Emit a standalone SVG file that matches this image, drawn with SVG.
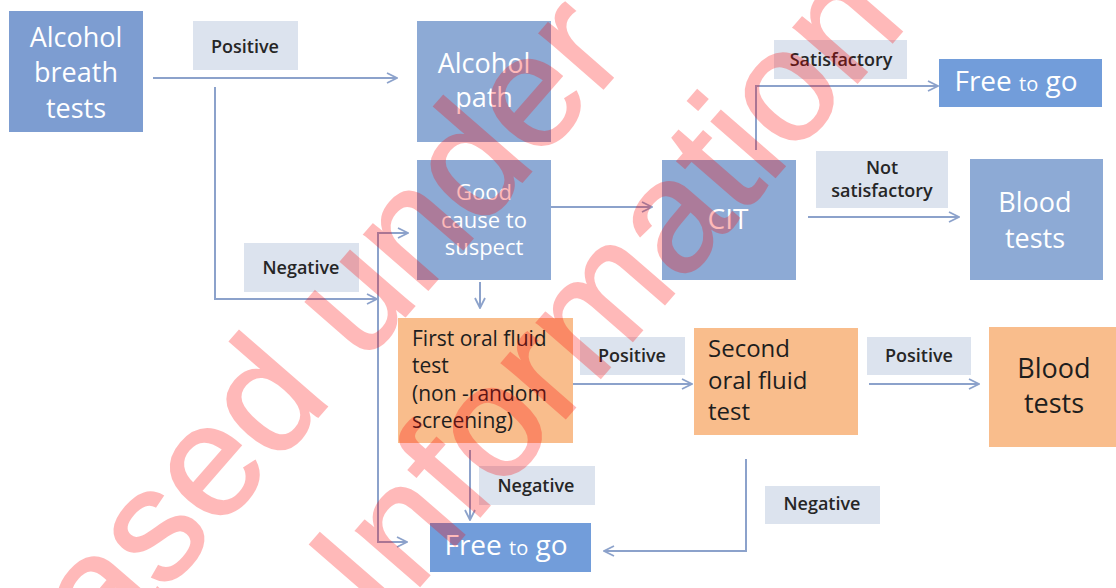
<svg xmlns="http://www.w3.org/2000/svg" width="1116" height="588" viewBox="0 0 1116 588">
  <style>
    .bx-blue { fill: #8DAAD5; }
    .bx-dark { fill: #7D9DD1; }
    .bx-free { fill: #729DDA; }
    .bx-orange { fill: #F9BD8C; }
    .bx-label { fill: #DCE3EE; }
    .t { font-family: "Open Sans", "Liberation Sans", sans-serif; }
    .tw { fill: #FFFFFF; text-anchor: middle; }
    .td { fill: #1E1E1E; }
    .tl { fill: #262626; font-size: 18px; font-weight: 600; text-anchor: middle; }
    .conn { fill: none; stroke: #8CA2CB; stroke-width: 2; marker-end: url(#chev); }
    .wm { font-family: "Liberation Sans", Arial, sans-serif; font-size: 160px; fill: #FF0000; stroke: #FF0000; stroke-width: 2; }
  </style>
  <defs>
    <marker id="chev" viewBox="0 0 12 12" refX="11" refY="6" markerWidth="12" markerHeight="12" markerUnits="userSpaceOnUse" orient="auto">
      <path d="M1,1 L11,6 L1,11" fill="none" stroke="#8CA2CB" stroke-width="1.8"/>
    </marker>
  </defs>

  <rect width="1116" height="588" fill="#FFFFFF"/>

  <!-- connectors -->
  <g id="connectors">
    <path class="conn" d="M153,78 H397"/>
    <path class="conn" d="M215,87 V299 H377"/>
    <path class="conn" d="M378,300 V233 H408"/>
    <path class="conn" d="M378,300 V542 H407"/>
    <path class="conn" d="M480,282 V308"/>
    <path class="conn" d="M551,207 H652"/>
    <path class="conn" d="M756,150 V86 H938"/>
    <path class="conn" d="M808,217 H959"/>
    <path class="conn" d="M573,384 H692"/>
    <path class="conn" d="M869,384 H979"/>
    <path class="conn" d="M470,450 V520"/>
    <path class="conn" d="M746,459 V551 H604"/>
  </g>

  <!-- edge labels -->
  <g id="lbl-positive-1">
    <rect class="bx-label" x="193" y="21" width="105" height="49"/>
    <text class="t tl" x="245" y="53">Positive</text>
  </g>
  <g id="lbl-negative-1">
    <rect class="bx-label" x="244" y="243" width="115" height="49"/>
    <text class="t tl" x="301" y="274">Negative</text>
  </g>
  <g id="lbl-satisfactory">
    <rect class="bx-label" x="774" y="40" width="133" height="39"/>
    <text class="t tl" x="841" y="66">Satisfactory</text>
  </g>
  <g id="lbl-not-satisfactory">
    <rect class="bx-label" x="816" y="151" width="132" height="57"/>
    <text class="t tl" x="882" y="174">Not</text>
    <text class="t tl" x="882" y="197">satisfactory</text>
  </g>
  <g id="lbl-positive-2">
    <rect class="bx-label" x="580" y="337" width="105" height="38"/>
    <text class="t tl" x="632" y="362">Positive</text>
  </g>
  <g id="lbl-positive-3">
    <rect class="bx-label" x="867" y="337" width="104" height="38"/>
    <text class="t tl" x="919" y="362">Positive</text>
  </g>
  <g id="lbl-negative-2">
    <rect class="bx-label" x="479" y="466" width="116" height="39"/>
    <text class="t tl" x="536" y="492">Negative</text>
  </g>
  <g id="lbl-negative-3">
    <rect class="bx-label" x="765" y="486" width="115" height="38"/>
    <text class="t tl" x="822" y="510">Negative</text>
  </g>

  <!-- nodes -->
  <g id="node-breath-tests">
    <rect class="bx-dark" x="9" y="11" width="134" height="121"/>
    <text class="t tw" font-size="27" x="76" y="47">Alcohol</text>
    <text class="t tw" font-size="27" x="76" y="82">breath</text>
    <text class="t tw" font-size="27" x="76" y="118">tests</text>
  </g>
  <g id="node-alcohol-path">
    <rect class="bx-blue" x="417" y="21" width="134" height="121"/>
    <text class="t tw" font-size="27" x="484" y="73">Alcohol</text>
    <text class="t tw" font-size="27" x="484" y="107">path</text>
  </g>
  <g id="node-good-cause">
    <rect class="bx-blue" x="417" y="160" width="134" height="120"/>
    <text class="t tw" font-size="22" x="484" y="200">Good</text>
    <text class="t tw" font-size="22" x="484" y="228">cause to</text>
    <text class="t tw" font-size="22" x="484" y="255">suspect</text>
  </g>
  <g id="node-cit">
    <rect class="bx-blue" x="662" y="160" width="134" height="120"/>
    <text class="t tw" font-size="28" x="728" y="229">CIT</text>
  </g>
  <g id="node-free-top">
    <rect class="bx-free" x="939" y="59" width="163" height="48"/>
    <text class="t tw" x="1016" y="91"><tspan font-size="28">Free </tspan><tspan font-size="20">to</tspan><tspan font-size="28"> go</tspan></text>
  </g>
  <g id="node-blood-top">
    <rect class="bx-blue" x="970" y="159" width="133" height="121"/>
    <text class="t tw" font-size="27" x="1035" y="212">Blood</text>
    <text class="t tw" font-size="27" x="1035" y="248">tests</text>
  </g>
  <g id="node-first-oral">
    <rect class="bx-orange" x="398" y="318" width="175" height="125"/>
    <text class="t td" font-size="21" x="412" y="346">First oral fluid</text>
    <text class="t td" font-size="21" x="412" y="373">test</text>
    <text class="t td" font-size="21" x="412" y="401">(non -random</text>
    <text class="t td" font-size="21" x="412" y="428">screening)</text>
  </g>
  <g id="node-second-oral">
    <rect class="bx-orange" x="694" y="328" width="164" height="107"/>
    <text class="t td" font-size="24" x="708" y="357">Second</text>
    <text class="t td" font-size="24" x="708" y="389">oral fluid</text>
    <text class="t td" font-size="24" x="708" y="420">test</text>
  </g>
  <g id="node-blood-bottom">
    <rect class="bx-orange" x="989" y="327" width="127" height="120"/>
    <text class="t td" font-size="27" x="1054" y="378" text-anchor="middle">Blood</text>
    <text class="t td" font-size="27" x="1054" y="413" text-anchor="middle">tests</text>
  </g>
  <g id="node-free-bottom">
    <rect class="bx-free" x="430" y="523" width="161" height="49"/>
    <text class="t tw" x="506" y="555"><tspan font-size="28">Free </tspan><tspan font-size="20">to</tspan><tspan font-size="28"> go</tspan></text>
  </g>

  <!-- release stamp across the page -->
  <g id="watermark" opacity="0.27" transform="translate(-110 909) rotate(-49)">
    <text class="wm" x="0" y="0">Released under</text>
    <text class="wm" x="536" y="188">Information</text>
  </g>
</svg>
